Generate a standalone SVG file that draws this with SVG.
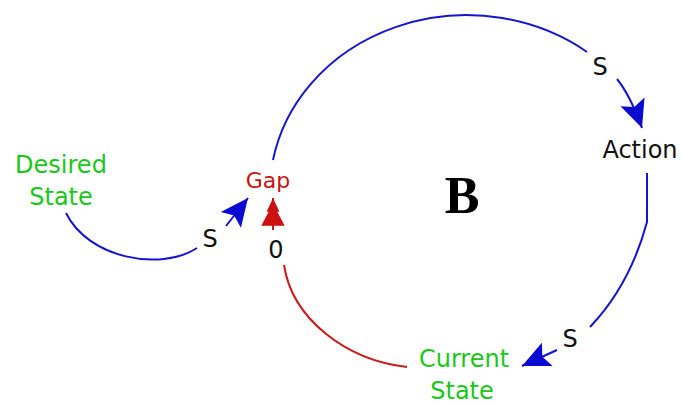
<svg xmlns="http://www.w3.org/2000/svg" width="681" height="405" viewBox="0 0 681 405">
<style>
text{font-family:"DejaVu Sans","Liberation Sans",sans-serif;font-size:24px;text-anchor:middle}
.g{fill:#19c819}.k{fill:#111}.r{fill:#cc1111}
.bl{fill:none;stroke:#1414d2;stroke-width:2}
.rl{fill:none;stroke:#cc1a1a;stroke-width:2}
</style>
<defs>
<marker id="ab" markerUnits="userSpaceOnUse" markerWidth="32" markerHeight="32" viewBox="-28 -14 30 28" refX="0" refY="0" orient="auto">
<path d="M0,0 L-26,-12 L-21,0 L-26,12 Z" fill="#0a0ad0"/>
</marker>
<marker id="ar" markerUnits="userSpaceOnUse" markerWidth="32" markerHeight="32" viewBox="-28 -14 30 28" refX="0" refY="0" orient="auto">
<path d="M0,0 L-13,-6 L-13,-4 L-26,-11 L-26,11 L-13,4 L-13,6 Z" fill="#cc1111"/>
</marker>
</defs>
<g id="connectors">
<path class="bl" d="M66,213 C88,258 160,272 197,248"/>
<path class="bl" d="M226,226 L248,198" marker-end="url(#ab)"/>
<path class="bl" d="M273,160 A197 177 0 0 1 587,52"/>
<path class="bl" d="M617,79 Q630,95 642,128" marker-end="url(#ab)"/>
<path class="bl" d="M647,173 L647,222 Q630,285 590,327"/>
<path class="bl" d="M557,350 L522,366" marker-end="url(#ab)"/>
<path class="rl" d="M284,265 C292,318 345,360 407,367"/>
<path class="rl" d="M273,230 L273,198" marker-end="url(#ar)"/>
</g>
<g id="desired-state"><text class="g" x="61" y="173">Desired</text><text class="g" x="61" y="205">State</text></g>
<g id="gap"><text class="r" x="268" y="188" style="font-size:22px">Gap</text></g>
<g id="action"><text class="k" x="640" y="158">Action</text></g>
<g id="current-state"><text class="g" x="464" y="367">Current</text><text class="g" x="462" y="399">State</text></g>
<g id="labels">
<text class="k" x="210" y="247">S</text>
<text class="k" x="600" y="75">S</text>
<text class="k" x="570" y="347">S</text>
<text class="k" x="276" y="258">0</text>
<text x="462" y="213" style="font-family:'Liberation Serif',serif;font-weight:bold;font-size:52px;fill:#000">B</text>
</g>
</svg>
